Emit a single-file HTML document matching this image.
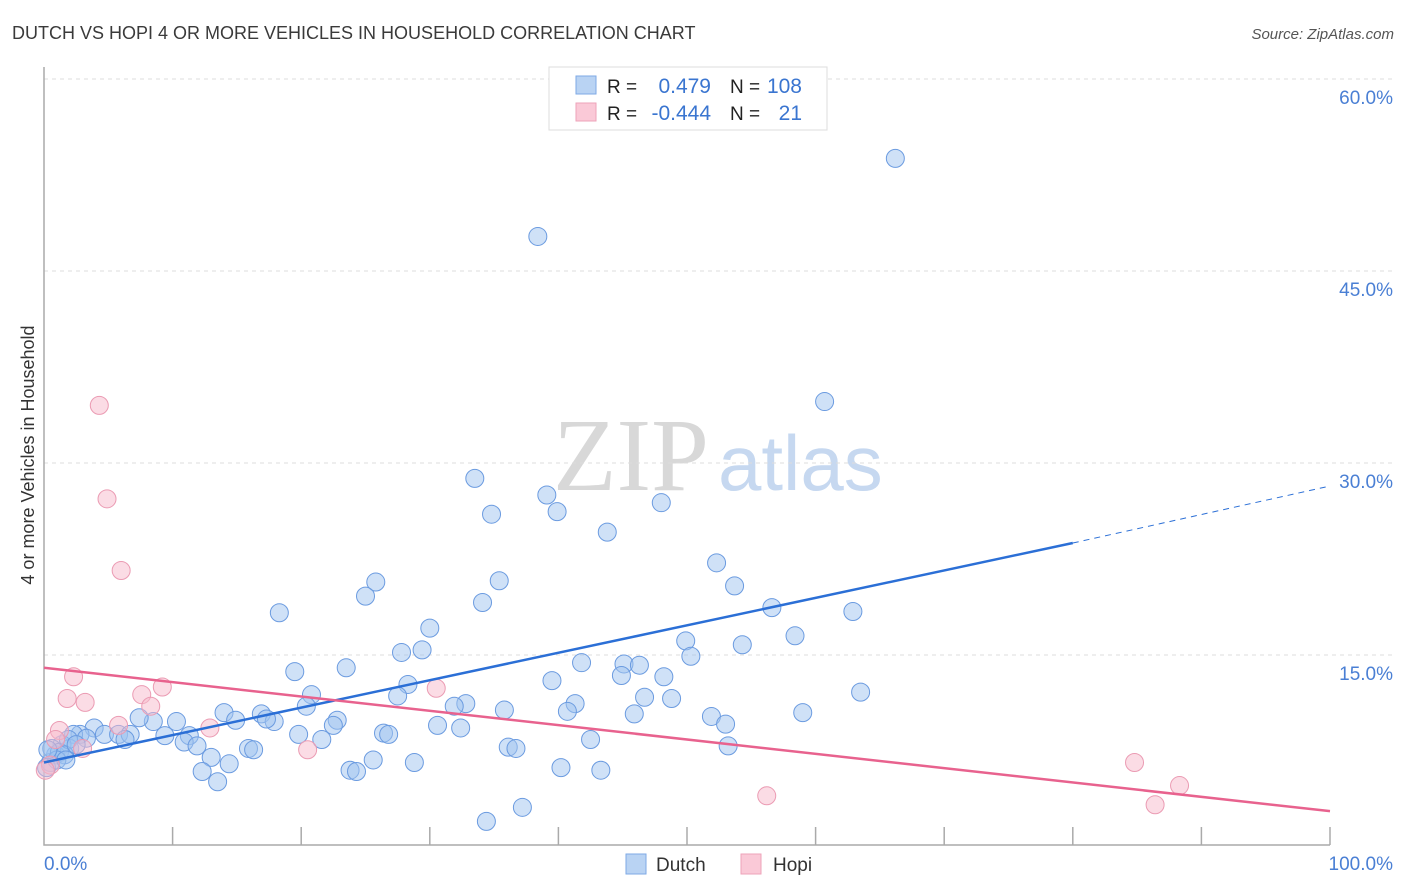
<!DOCTYPE html>
<html><head><meta charset="utf-8"><style>
body{margin:0;background:#fff;font-family:"Liberation Sans",sans-serif;}
#wrap{position:relative;width:1406px;height:892px;overflow:hidden;}
</style></head><body>
<div id="wrap">
<svg id="svg" width="1406" height="892" xmlns="http://www.w3.org/2000/svg">
<text x="12" y="39" font-size="18" fill="#3a3a3a">DUTCH VS HOPI 4 OR MORE VEHICLES IN HOUSEHOLD CORRELATION CHART</text>
<text x="1394" y="39" font-size="15" fill="#555" font-style="italic" text-anchor="end">Source: ZipAtlas.com</text>
<text x="553" y="490" font-size="104" fill="#d8d8d8" font-family="Liberation Serif,serif">ZIP</text>
<text x="718" y="490" font-size="78" fill="#c6d8f0">atlas</text>
<text transform="translate(34,455) rotate(-90)" font-size="18" fill="#333" text-anchor="middle">4 or more Vehicles in Household</text>
<g id="grid"></g><g id="axes"></g><g id="pts"></g><g id="lines"></g>
<g>
<rect x="549" y="67" width="278" height="63" fill="#fff" stroke="#ddd"/>
<rect x="576" y="76" width="20" height="18" fill="#b9d3f3" stroke="#7eaae6"/>
<rect x="576" y="103" width="20" height="18" fill="#fac9d7" stroke="#eea3ba"/>
<text x="607" y="93" font-size="19" fill="#222">R =</text>
<text x="711" y="93" font-size="21" fill="#3a75d0" text-anchor="end">0.479</text>
<text x="730" y="93" font-size="19" fill="#222">N =</text>
<text x="802" y="93" font-size="21" fill="#3a75d0" text-anchor="end">108</text>
<text x="607" y="120" font-size="19" fill="#222">R =</text>
<text x="711" y="120" font-size="21" fill="#3a75d0" text-anchor="end">-0.444</text>
<text x="730" y="120" font-size="19" fill="#222">N =</text>
<text x="802" y="120" font-size="21" fill="#3a75d0" text-anchor="end">21</text>
</g>
<g>
<rect x="626" y="854" width="20" height="20" fill="#b9d3f3" stroke="#7eaae6"/>
<text x="656" y="871" font-size="19" fill="#333">Dutch</text>
<rect x="741" y="854" width="20" height="20" fill="#fac9d7" stroke="#eea3ba"/>
<text x="773" y="871" font-size="19" fill="#333">Hopi</text>
</g>
<text x="44" y="870" font-size="19" fill="#4a7fd4">0.0%</text>
<text x="1393" y="870" font-size="19" fill="#4a7fd4" text-anchor="end">100.0%</text>
</svg>
</div>
<script>
const yTicks=[15,30,45,60];
const yTickLabels=["15.0%","30.0%","45.0%","60.0%"];
const xTicks=[10,20,30,40,50,60,70,80,90,100];
const dutchX=[66.2,38.4,60.7,33.5,39.1,39.9,34.8,48.0,43.8,52.3,35.4,25.8,53.7,25.0,34.1,56.6,62.9,18.3,30.0,58.4,49.9,54.3,27.8,29.4,50.3,41.8,45.1,46.3,23.5,19.5,44.9,39.5,48.2,28.3,63.5,20.8,46.7,48.8,27.5,41.3,32.8,31.9,40.7,35.8,20.4,45.9,59.0,51.9,14.0,16.9,22.8,14.9,17.9,53.0,17.3,30.6,32.4,22.5,10.3,8.5,7.4,26.4,26.8,19.8,21.6,11.3,9.4,3.9,2.8,4.7,5.8,6.7,6.3,2.3,3.3,10.9,11.9,2.0,1.4,36.1,36.7,42.5,53.2,15.9,16.3,13.0,14.4,25.6,28.8,23.8,24.3,40.2,43.3,12.3,13.5,37.2,34.4,0.9,0.5,0.6,1.2,1.9,0.2,1.6,2.5,1.0,0.3,1.7];
const dutchY=[53.8,47.7,34.8,28.8,27.5,26.2,26.0,26.9,24.6,22.2,20.8,20.7,20.4,19.6,19.1,18.7,18.4,18.3,17.1,16.5,16.1,15.8,15.2,15.4,14.9,14.4,14.3,14.2,14.0,13.7,13.4,13.0,13.3,12.7,12.1,11.9,11.7,11.6,11.8,11.2,11.2,11.0,10.6,10.7,11.0,10.4,10.5,10.2,10.5,10.4,9.9,9.9,9.8,9.6,10.0,9.5,9.3,9.5,9.8,9.8,10.1,8.9,8.8,8.8,8.4,8.7,8.7,9.3,8.8,8.8,8.8,8.8,8.4,8.8,8.5,8.2,7.9,7.7,8.0,7.8,7.7,8.4,7.9,7.7,7.6,7.0,6.5,6.8,6.6,6.0,5.9,6.2,6.0,5.9,5.1,3.1,2.0,7.2,6.6,7.7,7.4,8.4,6.2,7.2,8.0,6.8,7.6,6.8];
const hopiX=[4.3,4.9,6.0,2.3,1.8,3.2,9.2,7.6,8.3,5.8,1.2,12.9,30.5,20.5,3.0,0.9,0.5,0.1,56.2,84.8,86.4,88.3];
const hopiY=[34.5,27.2,21.6,13.3,11.6,11.3,12.5,11.9,11.0,9.5,9.1,9.3,12.4,7.6,7.7,8.4,6.4,6.0,4.0,6.6,3.3,4.8];
const dutchTrendX=[0,80,100];
const dutchTrendY=[6.6,23.75,28.2];
const hopiTrendX=[0,100];
const hopiTrendY=[14.0,2.8];

const NS="http://www.w3.org/2000/svg";
const X=v=>44+v*12.86;
const Y=v=>847-v*12.8;
function mk(tag,attrs,parent){const e=document.createElementNS(NS,tag);for(const k in attrs)e.setAttribute(k,attrs[k]);document.getElementById(parent).appendChild(e);return e;}
yTicks.forEach((t,i)=>{
  const l=mk('line',{x1:44,x2:1394,y1:Y(t),y2:Y(t),stroke:'#ddd','stroke-dasharray':'4,4'},'grid');
  
  
  const tx=mk('text',{x:1393,y:Y(t)+25,'font-size':19,fill:'#4a7fd4','text-anchor':'end'},'grid');
  tx.textContent=yTickLabels[i];
  
  
});
const ax=mk('path',{d:'M44 67 V845 H1330',stroke:'#aaa',fill:'none','stroke-width':1.5},'axes');


xTicks.forEach(t=>{
  const l=mk('line',{x1:X(t),x2:X(t),y1:827,y2:845,stroke:'#aaa','stroke-width':1.5},'axes');
  
  
});
dutchX.forEach((x,i)=>{
  const c=mk('circle',{cx:X(x),cy:Y(dutchY[i]),r:9,fill:'rgba(160,196,240,0.5)',stroke:'#6b9be0','stroke-width':1},'pts');
  
  
});
hopiX.forEach((x,i)=>{
  const c=mk('circle',{cx:X(x),cy:Y(hopiY[i]),r:9,fill:'rgba(248,186,204,0.5)',stroke:'#eb9bb3','stroke-width':1},'pts');
  
  
});
const d1=mk('line',{x1:X(dutchTrendX[0]),y1:Y(dutchTrendY[0]),x2:X(dutchTrendX[1]),y2:Y(dutchTrendY[1]),stroke:'#2b6fd6','stroke-width':2.5},'lines');


const d2=mk('line',{x1:X(dutchTrendX[1]),y1:Y(dutchTrendY[1]),x2:X(dutchTrendX[2]),y2:Y(dutchTrendY[2]),stroke:'#2b6fd6','stroke-width':1,'stroke-dasharray':'6,5'},'lines');


const h1=mk('line',{x1:X(hopiTrendX[0]),y1:Y(hopiTrendY[0]),x2:X(hopiTrendX[1]),y2:Y(hopiTrendY[1]),stroke:'#e8628e','stroke-width':2.5},'lines');


</script>
</body></html>
